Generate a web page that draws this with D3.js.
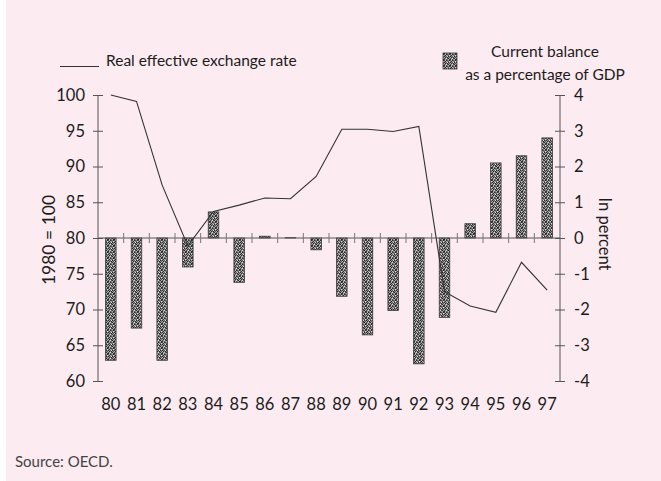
<!DOCTYPE html>
<html>
<head>
<meta charset="utf-8">
<script src="https://cdn.jsdelivr.net/npm/d3@7"></script>
<style>
  body { margin: 0; background: #fff; }
  text { font-family: Lato, "Noto Sans", sans-serif; fill: #1c1c1c; }
</style>
</head>
<body>
<div class="chart"></div>
<script>
// chart data
var years = ["80","81","82","83","84","85","86","87","88","89","90","91","92","93","94","95","96","97"];
var exchangeRate = [100, 99.1, 87.4, 78.9, 83.7, 84.6, 85.6, 85.5, 88.6, 95.2, 95.2, 94.9, 95.6, 72.5, 70.5, 69.6, 76.6, 72.7];
var currentBalance = [-3.42, -2.52, -3.42, -0.81, 0.73, -1.24, 0.05, 0.01, -0.33, -1.63, -2.71, -2.03, -3.52, -2.22, 0.4, 2.1, 2.3, 2.8];
var leftTicks = [60, 65, 70, 75, 80, 85, 90, 95, 100];
var rightTicks = [-4, -3, -2, -1, 0, 1, 2, 3, 4];

var svgWidth = 661;
var svgHeight = 481;

var svg = d3.select(".chart")
  .append("svg")
  .attr("width", svgWidth)
  .attr("height", svgHeight);

// pink page background
svg.append("rect")
  .attr("x", 6).attr("y", 0)
  .attr("width", svgWidth - 6).attr("height", svgHeight)
  .attr("fill", "#fcebf1");

// stipple pattern for bars (fixed speckle layout)
var speckle = [
  "dlDdmD",
  "mDlmdL",
  "DmdLDm",
  "lDmDmd",
  "dmLdDl",
  "DldmlD"
];
var shade = { D: "#2a2a2a", d: "#555", m: "#888", l: "#b5b5b5", L: "#e0e0e0" };
var defs = svg.append("defs");
var pat = defs.append("pattern")
  .attr("id", "stip")
  .attr("width", 6).attr("height", 6)
  .attr("patternUnits", "userSpaceOnUse");
speckle.forEach(function(row, r) {
  row.split("").forEach(function(c, k) {
    pat.append("rect")
      .attr("x", k).attr("y", r)
      .attr("width", 1).attr("height", 1)
      .attr("fill", shade[c]);
  });
});

// scales
var xBand = d3.scaleBand()
  .domain(years)
  .range([98, 560])
  .paddingInner(0.59)
  .paddingOuter(0.295);

var yLeft = d3.scaleLinear().domain([60, 100]).range([381, 95]);
var yRight = d3.scaleLinear().domain([-4, 4]).range([381, 95]);

// bars
svg.append("g")
  .selectAll("rect")
  .data(currentBalance)
  .enter()
  .append("rect")
  .attr("x", (d, i) => xBand(years[i]))
  .attr("width", xBand.bandwidth())
  .attr("y", d => yRight(Math.max(0, d)))
  .attr("height", d => Math.abs(yRight(d) - yRight(0)))
  .attr("fill", "url(#stip)")
  .attr("stroke", "#3a3a3a")
  .attr("stroke-width", 0.8);

// zero line with category ticks
var zeroY = yRight(0);
var gap = xBand.step() - xBand.bandwidth();
svg.append("line")
  .attr("x1", 98).attr("x2", 560)
  .attr("y1", zeroY).attr("y2", zeroY)
  .attr("stroke", "#555").attr("stroke-width", 1);
svg.append("g")
  .selectAll("line")
  .data(years.slice(1))
  .enter()
  .append("line")
  .attr("x1", d => xBand(d) - gap / 2)
  .attr("x2", d => xBand(d) - gap / 2)
  .attr("y1", zeroY - 5).attr("y2", zeroY + 5)
  .attr("stroke", "#777").attr("stroke-width", 1);

// exchange rate line
var line = d3.line()
  .x((d, i) => xBand(years[i]) + xBand.bandwidth() / 2)
  .y(d => yLeft(d));

svg.append("path")
  .datum(exchangeRate)
  .attr("d", line)
  .attr("fill", "none")
  .attr("stroke", "#333")
  .attr("stroke-width", 1.1);

// left axis
var leftAxis = svg.append("g")
  .attr("transform", "translate(98,0)")
  .call(d3.axisLeft(yLeft).tickValues(leftTicks).tickSize(5).tickPadding(8));
leftAxis.selectAll(".tick line").attr("x1", 5);

// right axis
var rightAxis = svg.append("g")
  .attr("transform", "translate(560,0)")
  .call(d3.axisRight(yRight).tickValues(rightTicks).tickSize(5).tickPadding(9).tickFormat(d => String(d)));
rightAxis.selectAll(".tick line").attr("x1", -5);

[leftAxis, rightAxis].forEach(function(ax) {
  ax.select(".domain").attr("stroke", "#555").attr("d", "M0,381V95");
  ax.selectAll(".tick line").attr("stroke", "#555");
  ax.selectAll("text").style("font-size", "16.5px").attr("fill", "#1c1c1c");
});

// x labels
var xAxis = svg.append("g")
  .attr("transform", "translate(0,381)")
  .call(d3.axisBottom(xBand).tickSize(0).tickPadding(17));
xAxis.select(".domain").remove();
xAxis.selectAll("text").style("font-size", "16.5px").attr("fill", "#1c1c1c");

// axis titles
svg.append("text")
  .attr("transform", "translate(49,240) rotate(-90)")
  .attr("text-anchor", "middle")
  .attr("dy", "0.35em")
  .style("font-size", "17.5px")
  .text("1980 = 100");

svg.append("text")
  .attr("transform", "translate(605,234) rotate(90)")
  .attr("text-anchor", "middle")
  .attr("dy", "0.35em")
  .style("font-size", "16.5px")
  .text("In percent");

// legend
svg.append("line")
  .attr("x1", 60).attr("x2", 99)
  .attr("y1", 66.5).attr("y2", 66.5)
  .attr("stroke", "#333").attr("stroke-width", 1.1);
svg.append("text")
  .attr("x", 106).attr("y", 66)
  .style("font-size", "15.5px")
  .text("Real effective exchange rate");

svg.append("rect")
  .attr("x", 443).attr("y", 53)
  .attr("width", 14).attr("height", 16)
  .attr("fill", "url(#stip)")
  .attr("stroke", "#3a3a3a").attr("stroke-width", 0.8);
svg.append("text")
  .attr("x", 545).attr("y", 56.5)
  .attr("text-anchor", "middle")
  .style("font-size", "15.5px")
  .text("Current balance");
svg.append("text")
  .attr("x", 545).attr("y", 80)
  .attr("text-anchor", "middle")
  .style("font-size", "15.5px")
  .text("as a percentage of GDP");

// source
svg.append("text")
  .attr("x", 15).attr("y", 467)
  .style("font-size", "15px")
  .style("fill", "#444")
  .text("Source: OECD.");
</script>
</body>
</html>
